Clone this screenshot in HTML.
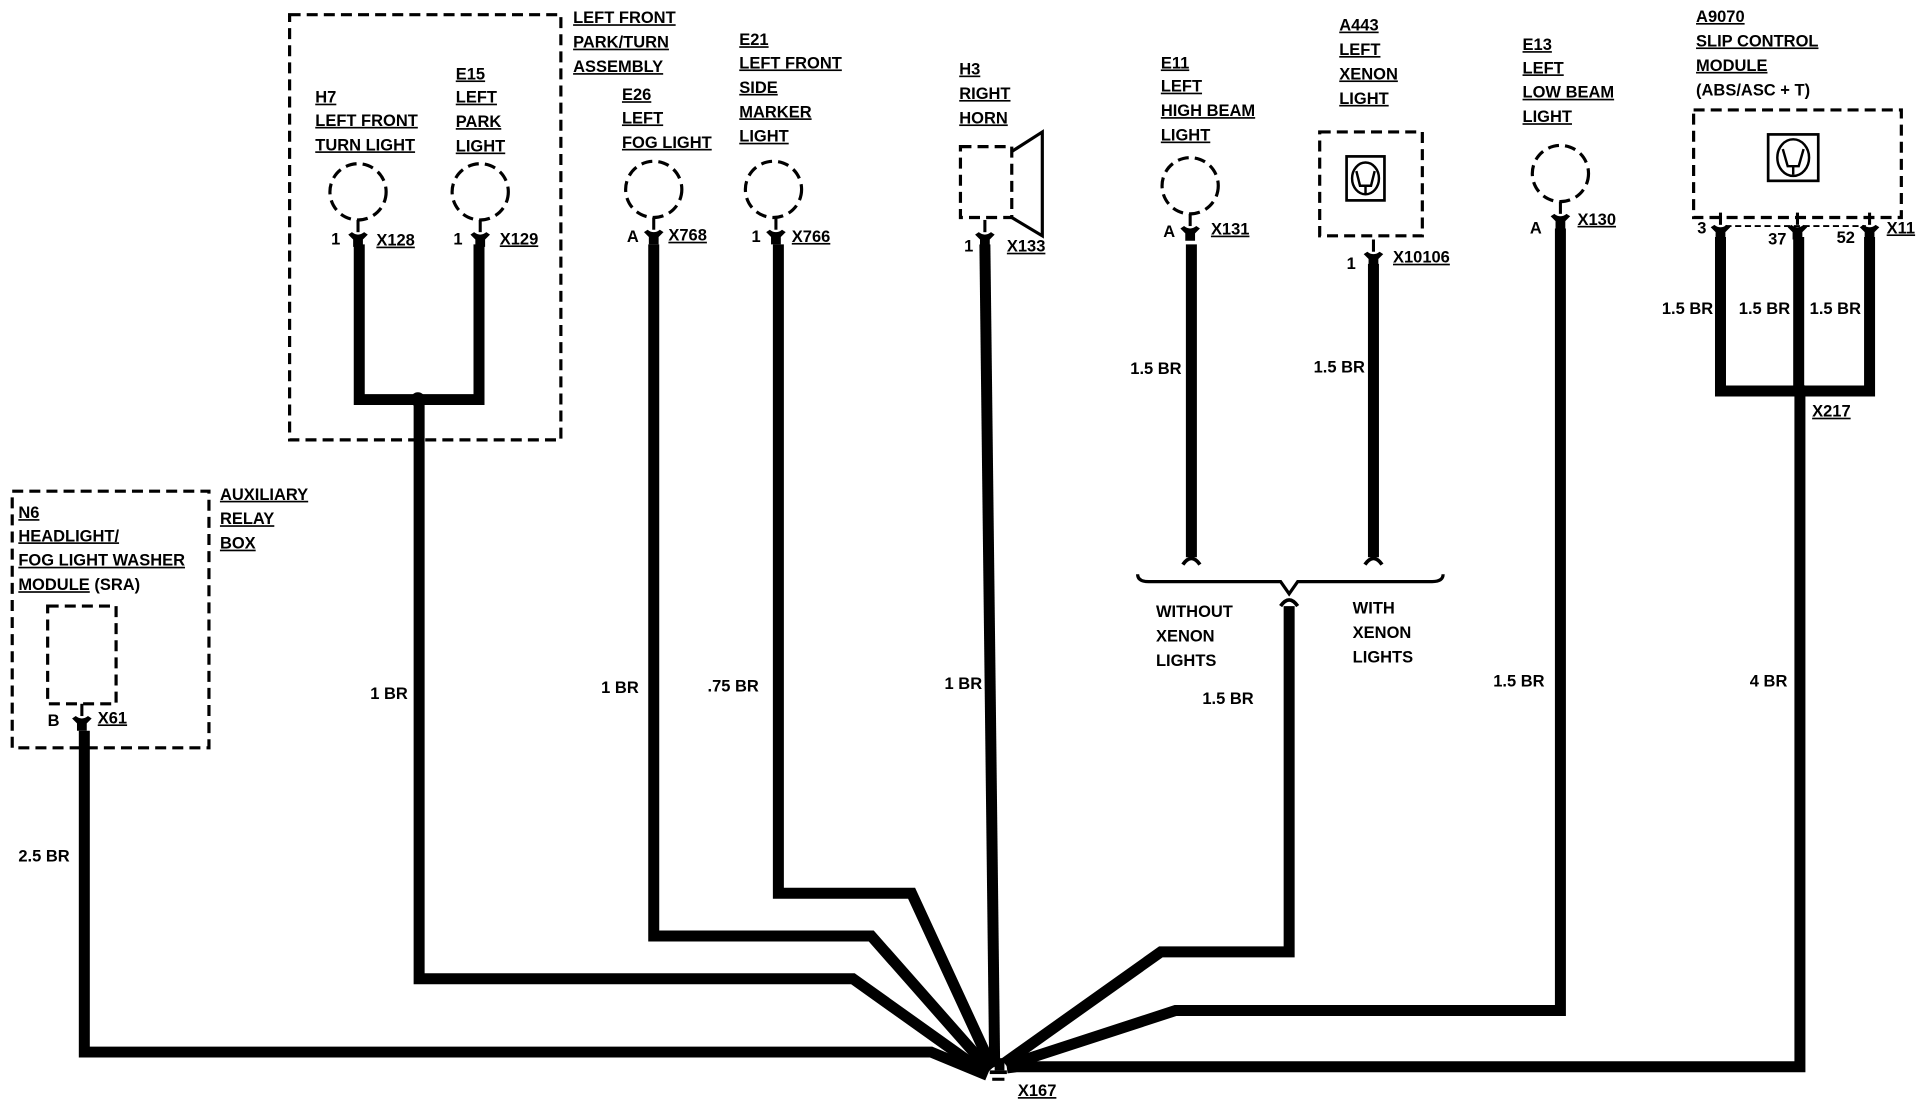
<!DOCTYPE html>
<html><head><meta charset="utf-8"><style>
html,body{margin:0;padding:0;background:#fff;width:1916px;height:1120px;overflow:hidden}
svg{display:block}
text{font-family:"Liberation Sans Narrow","Liberation Sans",sans-serif;font-weight:bold;font-size:13.5px;fill:#000}
.u{text-decoration:underline}
.w{fill:none;stroke:#000;stroke-width:9;stroke-linejoin:miter}
.d{fill:none;stroke:#000;stroke-width:2.6;stroke-dasharray:9 5}
</style></head><body>
<svg width="1916" height="1120" viewBox="0 0 1568 916.6" preserveAspectRatio="none" xmlns="http://www.w3.org/2000/svg">
<defs>
<g id="fork"><path d="M0,-8 V2" stroke="#000" stroke-width="2.5"/><path d="M-8,4 L-5,2 Q0,6 5,2 L8,4 L4,8 L4,14 L-4,14 L-4,8 Z" fill="#000"/></g>
</defs>
<!-- Left front box -->
<rect x="237" y="12" width="222" height="348" class="d"/>
<text x="469" y="19" class="u">LEFT FRONT</text>
<text x="469" y="39" class="u">PARK/TURN</text>
<text x="469" y="59" class="u">ASSEMBLY</text>
<text x="258" y="84" class="u">H7</text>
<text x="258" y="103" class="u">LEFT FRONT</text>
<text x="258" y="123" class="u">TURN LIGHT</text>
<text x="373" y="65" class="u">E15</text>
<text x="373" y="84" class="u">LEFT</text>
<text x="373" y="104" class="u">PARK</text>
<text x="373" y="124" class="u">LIGHT</text>
<circle cx="293" cy="157" r="23" class="d"/>
<circle cx="393" cy="157" r="23" class="d"/>
<use href="#fork" x="293" y="188"/><use href="#fork" x="393" y="188"/>
<text x="271" y="200" font-size="11">1</text><text x="308" y="201" class="u">X128</text>
<text x="371" y="200" font-size="11">1</text><text x="409" y="200" class="u">X129</text>
<path class="w" d="M294,200 V327 H392 V200"/>
<circle cx="342" cy="327" r="6" fill="#000"/>
<!-- E26 / E21 -->
<text x="509" y="82" class="u">E26</text>
<text x="509" y="101" class="u">LEFT</text>
<text x="509" y="121" class="u">FOG LIGHT</text>
<text x="605" y="37" class="u">E21</text>
<text x="605" y="56" class="u">LEFT FRONT</text>
<text x="605" y="76" class="u">SIDE</text>
<text x="605" y="96" class="u">MARKER</text>
<text x="605" y="116" class="u">LIGHT</text>
<circle cx="535" cy="155" r="23" class="d"/>
<circle cx="633" cy="155" r="23" class="d"/>
<use href="#fork" x="535" y="186"/><use href="#fork" x="635" y="186"/>
<text x="513" y="198" font-size="11">A</text><text x="547" y="197" class="u">X768</text>
<text x="615" y="198" font-size="11">1</text><text x="648" y="198" class="u">X766</text>
<!-- Horn -->
<text x="785" y="61" class="u">H3</text>
<text x="785" y="81" class="u">RIGHT</text>
<text x="785" y="101" class="u">HORN</text>
<rect x="786" y="120" width="42" height="58" class="d"/>
<path d="M828,124 L853,108 V193 L828,178" fill="none" stroke="#000" stroke-width="2.6"/>
<use href="#fork" x="806" y="188"/>
<text x="789" y="206" font-size="11">1</text><text x="824" y="206" class="u">X133</text>
<!-- wire labels -->
<text x="303" y="572">1 BR</text>
<text x="492" y="567">1 BR</text>
<text x="579" y="566">.75 BR</text>
<text x="773" y="564">1 BR</text>
<text x="15" y="705">2.5 BR</text>
<text x="925" y="306">1.5 BR</text>
<text x="1075" y="305">1.5 BR</text>
<text x="984" y="576">1.5 BR</text>
<text x="1222" y="562">1.5 BR</text>
<text x="1432" y="562">4 BR</text>
<!-- E11 -->
<text x="950" y="56" class="u">E11</text>
<text x="950" y="75" class="u">LEFT</text>
<text x="950" y="95" class="u">HIGH BEAM</text>
<text x="950" y="115" class="u">LIGHT</text>
<circle cx="974" cy="152" r="23" class="d"/>
<use href="#fork" x="974" y="183"/>
<text x="952" y="194" font-size="11">A</text><text x="991" y="192" class="u">X131</text>
<!-- A443 -->
<text x="1096" y="25" class="u">A443</text>
<text x="1096" y="45" class="u">LEFT</text>
<text x="1096" y="65" class="u">XENON</text>
<text x="1096" y="85" class="u">LIGHT</text>
<rect x="1080" y="108" width="84" height="85" class="d"/>
<rect x="1102" y="128" width="31" height="36" fill="none" stroke="#000" stroke-width="2.2"/>
<ellipse cx="1117.5" cy="146" rx="11" ry="13" fill="none" stroke="#000" stroke-width="2"/>
<path d="M1110,140 L1113,152 H1122 L1125,140 M1117.5,152 V159" fill="none" stroke="#000" stroke-width="2"/>
<use href="#fork" x="1124" y="204"/>
<text x="1102" y="220" font-size="11">1</text><text x="1140" y="215" class="u">X10106</text>
<!-- brace -->
<path class="w" d="M975,200 V456"/><path class="w" d="M1124,216 V456"/>
<path d="M968,462 Q975,452 982,462 M1117,462 Q1124,452 1131,462" fill="none" stroke="#000" stroke-width="3"/>
<path d="M931,470 Q931,476 940,476 H1048 L1055,486 L1062,476 H1172 Q1181,476 1181,470" fill="none" stroke="#000" stroke-width="2.6"/>
<path d="M1048,496 Q1055,486 1062,496" fill="none" stroke="#000" stroke-width="3"/>
<text x="946" y="505" font-weight="normal" style="font-weight:bold">WITHOUT</text>
<text x="946" y="525">XENON</text>
<text x="946" y="545">LIGHTS</text>
<text x="1107" y="502">WITH</text>
<text x="1107" y="522">XENON</text>
<text x="1107" y="542">LIGHTS</text>
<!-- E13 -->
<text x="1246" y="41" class="u">E13</text>
<text x="1246" y="60" class="u">LEFT</text>
<text x="1246" y="80" class="u">LOW BEAM</text>
<text x="1246" y="100" class="u">LIGHT</text>
<circle cx="1277" cy="142" r="23" class="d"/>
<use href="#fork" x="1277" y="173"/>
<text x="1252" y="191" font-size="11">A</text><text x="1291" y="184" class="u">X130</text>
<!-- A9070 -->
<text x="1388" y="18" class="u">A9070</text>
<text x="1388" y="38" class="u">SLIP CONTROL</text>
<text x="1388" y="58" class="u">MODULE</text>
<text x="1388" y="78">(ABS/ASC + T)</text>
<rect x="1386" y="90" width="170" height="88" class="d"/>
<rect x="1447" y="110" width="41" height="38" fill="none" stroke="#000" stroke-width="2.2"/>
<ellipse cx="1467.5" cy="129" rx="13" ry="15" fill="none" stroke="#000" stroke-width="2"/>
<path d="M1459,122 L1463,136 H1472 L1476,122 M1467.5,136 V143" fill="none" stroke="#000" stroke-width="2"/>
<path d="M1412,185 H1527" stroke="#000" stroke-width="1.5" stroke-dasharray="5 3"/>
<use href="#fork" x="1408" y="182"/><use href="#fork" x="1471" y="182"/><use href="#fork" x="1530" y="182"/>
<text x="1389" y="191" font-size="11">3</text>
<text x="1447" y="200" font-size="11">37</text>
<text x="1503" y="199" font-size="11">52</text>
<text x="1544" y="191" class="u">X11</text>
<path class="w" d="M1408,194 V320 H1530 V194 M1472,194 V320"/>
<circle cx="1473" cy="320" r="6" fill="#000"/>
<text x="1360" y="257">1.5 BR</text>
<text x="1423" y="257">1.5 BR</text>
<text x="1481" y="257">1.5 BR</text>
<text x="1483" y="341" class="u">X217</text>
<!-- N6 -->
<rect x="10" y="402" width="161" height="210" class="d"/>
<text x="15" y="424" class="u">N6</text>
<text x="15" y="443" class="u">HEADLIGHT/</text>
<text x="15" y="463" class="u">FOG LIGHT WASHER</text>
<text x="15" y="483"><tspan class="u">MODULE</tspan> (SRA)</text>
<text x="180" y="409" class="u">AUXILIARY</text>
<text x="180" y="429" class="u">RELAY</text>
<text x="180" y="449" class="u">BOX</text>
<rect x="39" y="496" width="56" height="80" class="d" stroke-width="2"/>
<use href="#fork" x="67" y="584"/>
<text x="39" y="594" font-size="11">B</text><text x="80" y="592" class="u">X61</text>
<!-- main wires to ground -->
<path class="w" d="M69,598 V861 H762 L808,880"/>
<path class="w" d="M343,327 V801 H698 L806,878"/>
<path class="w" d="M535,200 V766 H713 L810,876"/>
<path class="w" d="M637,200 V731 H746 L812,874"/>
<path class="w" d="M806,200 L814,872"/>
<path class="w" d="M1055,496 V779 H950 L822,870"/>
<path class="w" d="M1277,187 V827 H962 L824,872"/>
<path class="w" d="M1473,320 V873 H832 L824,874"/>
<!-- ground -->
<rect x="814" y="866" width="8" height="10" fill="#000"/>
<rect x="810" y="876" width="14" height="3" fill="#000"/>
<rect x="812" y="882" width="10" height="2.5" fill="#000"/>
<text x="833" y="897" class="u">X167</text>
</svg>
</body></html>
